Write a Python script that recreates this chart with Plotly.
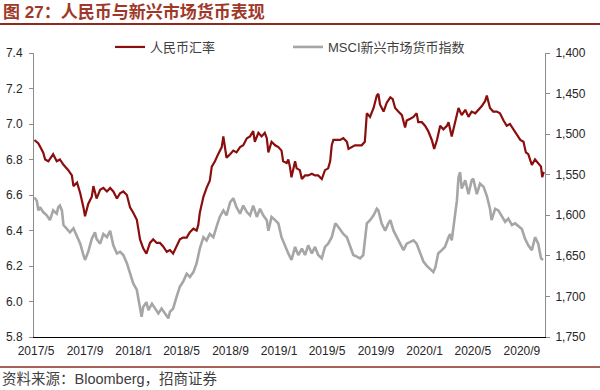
import plotly.graph_objects as go
import pandas as pd

# ---------------- data ----------------
cny_dates = ["2017-04-27","2017-05-07","2017-05-19","2017-05-24","2017-06-01","2017-06-13","2017-06-22","2017-06-30","2017-07-09","2017-07-21",
             "2017-07-30","2017-08-03","2017-08-12","2017-08-20","2017-08-28","2017-09-01","2017-09-09","2017-09-18","2017-09-22","2017-09-30",
             "2017-10-09","2017-10-17","2017-10-26","2017-11-03","2017-11-11","2017-11-20","2017-11-28","2017-12-06","2017-12-15","2017-12-23",
             "2017-12-31","2018-01-09","2018-01-17","2018-01-25","2018-02-02","2018-02-11","2018-02-19","2018-02-28","2018-03-08","2018-03-16",
             "2018-03-25","2018-04-02","2018-04-10","2018-04-19","2018-04-27","2018-05-05","2018-05-14","2018-05-22","2018-05-31","2018-06-08",
             "2018-06-12","2018-06-16","2018-06-25","2018-07-03","2018-07-11","2018-07-16","2018-07-24","2018-08-01","2018-08-10","2018-08-14",
             "2018-08-22","2018-08-31","2018-09-08","2018-09-16","2018-09-25","2018-10-03","2018-10-12","2018-10-20","2018-10-28","2018-11-01",
             "2018-11-10","2018-11-18","2018-11-26","2018-12-01","2018-12-05","2018-12-13","2018-12-22","2018-12-30","2019-01-07","2019-01-11",
             "2019-01-20","2019-01-24","2019-01-28","2019-02-01","2019-02-10","2019-02-14","2019-02-22","2019-02-27","2019-03-07","2019-03-15",
             "2019-03-24","2019-04-01","2019-04-09","2019-04-18","2019-04-26","2019-05-04","2019-05-09","2019-05-13","2019-05-17","2019-05-26",
             "2019-06-03","2019-06-11","2019-06-20","2019-06-24","2019-07-02","2019-07-10","2019-07-19","2019-07-27","2019-08-04","2019-08-09",
             "2019-08-17","2019-08-26","2019-09-03","2019-09-07","2019-09-11","2019-09-20","2019-09-28","2019-10-07","2019-10-13","2019-10-19",
             "2019-10-27","2019-11-05","2019-11-13","2019-11-17","2019-11-26","2019-12-04","2019-12-12","2019-12-16","2019-12-25","2020-01-02",
             "2020-01-10","2020-01-19","2020-01-25","2020-02-01","2020-02-09","2020-02-17","2020-02-26","2020-03-01","2020-03-09","2020-03-17",
             "2020-03-26","2020-04-03","2020-04-12","2020-04-20","2020-04-28","2020-05-07","2020-05-15","2020-05-23","2020-06-01","2020-06-05",
             "2020-06-13","2020-06-21","2020-06-30","2020-07-08","2020-07-17","2020-07-25","2020-08-02","2020-08-11","2020-08-19","2020-08-28",
             "2020-09-05","2020-09-11","2020-09-17","2020-09-26","2020-10-04","2020-10-12","2020-10-19","2020-10-22","2020-10-26"]
cny_values = [6.91,6.89,6.84,6.80,6.79,6.83,6.79,6.80,6.77,6.74,
              6.71,6.65,6.67,6.61,6.53,6.48,6.55,6.59,6.65,6.58,
              6.63,6.64,6.62,6.64,6.62,6.58,6.61,6.62,6.60,6.53,
              6.50,6.46,6.35,6.30,6.27,6.33,6.35,6.33,6.33,6.31,
              6.28,6.29,6.27,6.31,6.35,6.36,6.36,6.39,6.41,6.40,
              6.43,6.50,6.59,6.64,6.68,6.76,6.79,6.83,6.87,6.93,
              6.81,6.83,6.85,6.84,6.87,6.88,6.92,6.93,6.96,6.90,
              6.95,6.93,6.95,6.92,6.84,6.90,6.88,6.87,6.85,6.79,
              6.78,6.80,6.76,6.70,6.79,6.75,6.74,6.69,6.71,6.71,
              6.72,6.71,6.71,6.69,6.74,6.75,6.79,6.88,6.91,6.91,
              6.91,6.92,6.90,6.86,6.87,6.88,6.88,6.88,6.90,7.06,
              7.04,7.09,7.16,7.17,7.11,7.07,7.12,7.15,7.14,7.09,
              7.07,7.05,6.98,7.02,7.03,7.04,7.06,7.01,7.01,6.99,
              6.96,6.91,6.86,6.91,6.99,6.97,6.99,7.01,6.93,7.01,
              7.09,7.05,7.08,7.04,7.07,7.06,7.08,7.10,7.13,7.16,
              7.09,7.07,7.07,7.06,7.02,6.99,7.00,6.97,6.94,6.91,
              6.90,6.84,6.83,6.77,6.80,6.78,6.76,6.70,6.73]

msci_dates = ["2017-04-27","2017-05-03","2017-05-07","2017-05-11","2017-05-19","2017-05-28","2017-06-05","2017-06-13","2017-06-22","2017-06-26",
              "2017-06-30","2017-07-05","2017-07-09","2017-07-17","2017-07-25","2017-08-03","2017-08-12","2017-08-20","2017-08-28","2017-09-01",
              "2017-09-09","2017-09-18","2017-09-26","2017-09-30","2017-10-09","2017-10-17","2017-10-26","2017-11-03","2017-11-11","2017-11-20",
              "2017-11-28","2017-12-06","2017-12-15","2017-12-23","2017-12-31","2018-01-09","2018-01-17","2018-01-21","2018-01-25","2018-02-02",
              "2018-02-07","2018-02-16","2018-02-24","2018-03-04","2018-03-12","2018-03-21","2018-03-29","2018-04-02","2018-04-10","2018-04-19",
              "2018-04-27","2018-05-05","2018-05-14","2018-05-22","2018-05-31","2018-06-08","2018-06-16","2018-06-25","2018-07-03","2018-07-11",
              "2018-07-20","2018-07-28","2018-08-05","2018-08-14","2018-08-22","2018-08-31","2018-09-08","2018-09-16","2018-09-25","2018-10-03",
              "2018-10-12","2018-10-20","2018-10-28","2018-11-06","2018-11-14","2018-11-22","2018-12-01","2018-12-05","2018-12-13","2018-12-22",
              "2018-12-30","2019-01-07","2019-01-16","2019-01-24","2019-02-01","2019-02-10","2019-02-18","2019-02-27","2019-03-07","2019-03-15",
              "2019-03-24","2019-04-01","2019-04-09","2019-04-18","2019-04-26","2019-05-04","2019-05-13","2019-05-22","2019-05-26","2019-06-03",
              "2019-06-11","2019-06-20","2019-06-28","2019-07-06","2019-07-15","2019-07-23","2019-07-31","2019-08-04","2019-08-09","2019-08-17",
              "2019-08-26","2019-09-03","2019-09-07","2019-09-15","2019-09-24","2019-10-02","2019-10-07","2019-10-15","2019-10-23","2019-10-31",
              "2019-11-09","2019-11-17","2019-11-26","2019-12-04","2019-12-12","2019-12-21","2019-12-29","2020-01-06","2020-01-15","2020-01-23",
              "2020-01-28","2020-02-04","2020-02-13","2020-02-21","2020-03-01","2020-03-05","2020-03-09","2020-03-13","2020-03-22","2020-03-26",
              "2020-03-30","2020-04-03","2020-04-12","2020-04-20","2020-04-28","2020-05-02","2020-05-11","2020-05-19","2020-05-28","2020-06-05",
              "2020-06-13","2020-06-17","2020-06-26","2020-07-04","2020-07-13","2020-07-21","2020-07-29","2020-08-07","2020-08-15","2020-08-24",
              "2020-09-01","2020-09-09","2020-09-17","2020-09-26","2020-10-04","2020-10-12","2020-10-19","2020-10-24"]
msci_values = [1578,1582,1594,1590,1596,1600,1606,1594,1598,1590,
               1588,1594,1612,1616,1621,1616,1625,1635,1649,1655,
               1645,1629,1621,1629,1635,1623,1627,1619,1637,1647,
               1645,1649,1659,1672,1684,1692,1713,1725,1713,1707,
               1717,1709,1715,1721,1715,1721,1727,1719,1715,1700,
               1688,1682,1672,1676,1670,1659,1641,1627,1631,1623,
               1627,1614,1602,1594,1600,1584,1579,1590,1598,1588,
               1596,1600,1588,1602,1592,1600,1606,1619,1602,1606,
               1610,1627,1639,1647,1655,1639,1649,1641,1649,1637,
               1647,1639,1649,1653,1639,1635,1627,1610,1612,1617,
               1623,1627,1639,1649,1651,1653,1649,1631,1610,1606,
               1600,1592,1594,1610,1619,1610,1606,1619,1627,1635,
               1643,1635,1633,1631,1635,1647,1657,1662,1666,1670,
               1664,1647,1643,1639,1627,1623,1631,1614,1582,1553,
               1547,1567,1557,1574,1557,1555,1574,1561,1565,1576,
               1592,1606,1592,1594,1602,1608,1604,1612,1610,1614,
               1617,1629,1637,1643,1627,1635,1653,1655]

x_tick_labels = ["2017/5","2017/9","2018/1","2018/5","2018/9","2019/1",
                 "2019/5","2019/9","2020/1","2020/5","2020/9"]

series_names = ["人民币汇率", "MSCI新兴市场货币指数"]
title_text = "<b>图 27：人民币与新兴市场货币表现</b>"
source_text = "资料来源：Bloomberg，招商证券"

# ---------------- layout geometry (pixels) ----------------
W, H = 600, 390
L, R, T, B = 34, 545, 53, 337     # plot area box
PT = 28                           # top of paper area (legend lives inside it)


def px(x):
    return (x - L) / (R - L)


def py(y):
    return (B - y) / (B - PT)


tickvals = [pd.Timestamp(s.replace("/", "-") + "-01") for s in x_tick_labels]

fig = go.Figure()
fig.add_trace(go.Scatter(
    x=pd.to_datetime(cny_dates), y=cny_values, name=series_names[0],
    mode="lines", line=dict(color="#8B0E0E", width=2.2), yaxis="y"))
fig.add_trace(go.Scatter(
    x=pd.to_datetime(msci_dates), y=msci_values, name=series_names[1],
    mode="lines", line=dict(color="#A6A6A6", width=2.6), yaxis="y2"))

tickfont = dict(family="Liberation Sans, Arial, sans-serif", size=12, color="#262626")
dom = [0, py(T)]

fig.update_layout(
    template="none",
    width=W, height=H,
    margin=dict(l=L, r=W - R, t=PT, b=H - B, pad=0, autoexpand=False),
    paper_bgcolor="white", plot_bgcolor="white",
    showlegend=True,
    legend=dict(orientation="h", x=px(110), y=py(47), xanchor="left", yanchor="middle",
                font=dict(family="Liberation Sans, Noto Sans CJK SC, sans-serif", size=13, color="#404040"),
                itemwidth=30, entrywidth=133, entrywidthmode="pixels",
                bgcolor="rgba(0,0,0,0)", borderwidth=0, tracegroupgap=0),
    xaxis=dict(type="date", range=["2017-04-26", "2020-10-29"],
               tickvals=tickvals, ticktext=x_tick_labels, ticks="", automargin=False,
               ticklabelstandoff=3,
               showgrid=False, zeroline=False, showline=True, linecolor="#000000", linewidth=1,
               tickfont=tickfont),
    yaxis=dict(domain=dom, range=[5.8, 7.4], dtick=0.2, tick0=5.8, tickformat=".1f", automargin=False,
               ticklabelstandoff=4,
               showgrid=False, zeroline=False, showline=True, linecolor="#8C8C8C", linewidth=1,
               ticks="outside", ticklen=4, tickcolor="#8C8C8C", tickfont=tickfont),
    yaxis2=dict(domain=dom, range=[1750, 1400], dtick=50, tick0=1400, tickformat=",d", automargin=False,
                ticklabelstandoff=3,
                overlaying="y", side="right",
                showgrid=False, zeroline=False, showline=True, linecolor="#8C8C8C", linewidth=1,
                ticks="outside", ticklen=4, tickcolor="#8C8C8C", tickfont=tickfont),
)

rule_color = "#8C2B1F"
fig.add_shape(type="line", xref="paper", yref="paper", x0=px(0), x1=px(600), y0=py(24), y1=py(24),
              line=dict(color=rule_color, width=2))
fig.add_shape(type="line", xref="paper", yref="paper", x0=px(0), x1=px(600), y0=py(367), y1=py(367),
              line=dict(color=rule_color, width=1.5))

fig.add_annotation(text=title_text, xref="paper", yref="paper", x=px(1), y=py(12),
                   xanchor="left", yanchor="middle", showarrow=False,
                   font=dict(family="Liberation Sans, Noto Sans CJK SC, sans-serif", size=17, color="#A0382A"))
fig.add_annotation(text=source_text, xref="paper", yref="paper", x=px(0), y=py(379),
                   xanchor="left", yanchor="middle", showarrow=False,
                   font=dict(family="Liberation Sans, Noto Sans CJK SC, sans-serif", size=14.5, color="#404040"))

fig.write_html("out.html", config={"displayModeBar": False},
               post_script="document.body.style.margin='0';document.body.style.overflow='hidden';")
